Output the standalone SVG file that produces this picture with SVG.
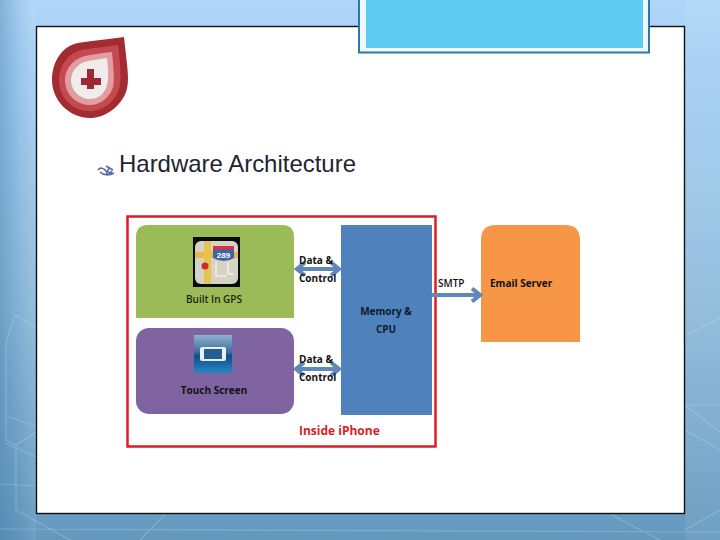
<svg xmlns="http://www.w3.org/2000/svg" width="720" height="540" viewBox="0 0 720 540">
<defs>
<linearGradient id="bg" x1="0" y1="0" x2="0" y2="1"><stop offset="0" stop-color="#b0d6f8"/><stop offset=".1" stop-color="#a6d0f4"/><stop offset=".55" stop-color="#8fbbdc"/><stop offset="1" stop-color="#6498bd"/></linearGradient>
<linearGradient id="side" x1="0" y1="0" x2="1" y2="0"><stop offset="0" stop-color="#3f7aa8" stop-opacity=".4"/><stop offset=".6" stop-color="#3f7aa8" stop-opacity=".08"/><stop offset="1" stop-color="#fff" stop-opacity=".08"/></linearGradient>
<linearGradient id="ts" x1="0" y1="0" x2="0" y2="1"><stop offset="0" stop-color="#8fb2d0"/><stop offset=".45" stop-color="#3d6f9f"/><stop offset=".55" stop-color="#0d4f8c"/><stop offset="1" stop-color="#2a86c4"/></linearGradient>
<marker id="head" markerUnits="userSpaceOnUse" markerWidth="14" markerHeight="16" refX="12" refY="8" orient="auto-start-reverse"><path d="M3 1.500 L11 8 L3 14.500" fill="none" stroke="#5f88b8" stroke-width="4"/></marker>
</defs>
<style>
.lbl{font-family:"Open Sans","Liberation Sans",sans-serif;font-size:10px;font-weight:700;fill:#111}
.ctr{text-anchor:middle}
.bgl{fill:none;stroke:#cfe4f2;stroke-opacity:.28;stroke-width:1.200}
.conn{fill:none;stroke:#5f88b8;stroke-width:4}
</style>
<g id="background">
<rect width="720" height="540" fill="url(#bg)"/>
<rect x="0" y="0" width="36" height="540" fill="url(#side)"/>
<rect x="685" y="0" width="35" height="540" fill="#fff" opacity=".07"/>
<path class="bgl" d="M6 343 L6 440 L16 445 L36 432 M6 343 L15 315 L36 328 M6 416 L36 426 M5 443 L36 457 M0 484 L36 486 M16 445 L16 510 L70 540"/>
<path class="bgl" d="M685 336 L720 318 M685 405 L720 432 M685 430 L720 450 M685 405 L720 405 M685 530 L720 510 M610 514 L660 540 M0 529 L720 532 M140 540 L165 514"/>
</g>
<g id="slide"><rect x="36.500" y="26.500" width="648" height="487" fill="#fff" stroke="#111" stroke-width="1.400"/></g>
<g id="title-bar">
<rect x="359" y="-4" width="290" height="56.500" fill="#eef8fd" stroke="#2a78ae" stroke-width="2"/>
<rect x="366" y="-4" width="277" height="52" fill="#5fcaf2"/>
</g>
<g id="logo">
<path d="M124 37 C110 39 90 41 78 43 C62 46 52 62 52 80 C52 101 70 118 90 118 C104 118 120 108 126 92 C129 84 128 74 127 64 Z" fill="#a32c33"/>
<path d="M118 45 C106 47 92 48 82 50 C68 53 59 66 59 80 C59 98 73 111 90 111 C103 111 115 102 119 89 C122 80 120 62 118 45 Z" fill="#c44a50"/>
<path d="M112 52 C102 53 94 54 85 56 C73 59 65 69 65 80 C65 95 77 105 90 105 C101 105 110 97 113 87 C115 78 113 64 112 52 Z" fill="#e29da0"/>
<path d="M107 58 C100 59 94 60 88 61 C78 63 71 71 71 80 C71 91 80 99 90 99 C99 99 105 93 107 85 C109 77 108 67 107 58 Z" fill="#f1ecec"/>
<path d="M87 69 H94 V78 H101 V85 H94 V89 H87 V85 H81 V78 H87 Z" fill="#a02832"/>
</g>
<g id="heading">
<path d="M98 170 C100 167 104 168 106 171 C108 174 111 173 112 171 M100 172 C103 175 109 176 114 173 M106 166 L113 170 M109 168 L106 175" fill="none" stroke="#5b6ea8" stroke-width="1.700"/>
<text x="119" y="172" font-family="Liberation Sans,Arial,sans-serif" font-size="24" fill="#22242f" textLength="237" lengthAdjust="spacing">Hardware Architecture</text>
</g>
<g id="inside-iphone">
<rect x="127.500" y="216.500" width="308" height="230" fill="#fff" stroke="#d81e26" stroke-width="2.500"/>
<text x="299" y="435" font-family="Open Sans,Liberation Sans,sans-serif" font-size="12" font-weight="700" fill="#d81e26">Inside iPhone</text>
</g>
<g id="gps">
<path d="M136 318 V237 Q136 225 148 225 H282 Q294 225 294 237 V318 Z" fill="#9bbb59"/>
<rect x="193" y="237" width="47" height="50" fill="#0a0a0a"/>
<rect x="195" y="241" width="43" height="43" rx="6" fill="#d6d2c4"/>
<path d="M195 252 H238 V258 H195 Z" fill="#e9b84a"/>
<path d="M204 241 H211 V284 H204 Z" fill="#e9c34f"/>
<path d="M213 246 H234 V258 Q224 264 213 258 Z" fill="#3e64a8"/>
<path d="M213 246 H234 V250 H213 Z" fill="#c8384a"/>
<text x="223.500" y="258" font-family="Liberation Sans,sans-serif" font-size="8" font-weight="700" fill="#fff" text-anchor="middle">289</text>
<path d="M216 262 V276 H226 M228 262 V274 H234" fill="none" stroke="#f2f0ea" stroke-width="1.500"/>
<circle cx="205" cy="266" r="3.500" fill="#c9282e"/>
<text class="ctr" x="214" y="303" font-family="Open Sans,Liberation Sans,sans-serif" font-size="10" font-weight="600" fill="#1c2410">Built In GPS</text>
</g>
<g id="touch">
<rect x="136" y="328" width="158" height="86" rx="13" fill="#8064a2"/>
<rect x="194" y="335" width="38" height="38" fill="url(#ts)"/>
<rect x="200" y="347" width="26" height="14" rx="2" fill="#e8f0f6"/>
<rect x="204" y="349" width="18" height="10" fill="#245d90"/>
<text class="lbl ctr" x="214" y="394">Touch Screen</text>
</g>
<g id="memory">
<rect x="341" y="225" width="91" height="190" fill="#4f81bd"/>
<text class="lbl ctr" x="386" y="315" style="fill:#0d1a30" font-size="11">Memory &amp;</text>
<text class="lbl ctr" x="386" y="333" style="fill:#0d1a30">CPU</text>
</g>
<g id="email">
<path d="M481 342 V240 Q481 225 496 225 H565 Q580 225 580 240 V342 Z" fill="#f79646"/>
<text class="lbl" x="490" y="287">Email Server</text>
</g>
<g id="connectors">
<path class="conn" d="M296 269 H340" marker-start="url(#head)" marker-end="url(#head)"/>
<path class="conn" d="M295 369 H340" marker-start="url(#head)" marker-end="url(#head)"/>
<path class="conn" d="M431 295 H481" marker-end="url(#head)"/>
</g>
<g id="labels">
<text class="lbl" x="299" y="264">Data &amp;</text>
<text class="lbl" x="299" y="282">Control</text>
<text class="lbl" x="299" y="363">Data &amp;</text>
<text class="lbl" x="299" y="381">Control</text>
<text class="lbl" x="438" y="287" style="font-weight:600">SMTP</text>
</g>
</svg>
